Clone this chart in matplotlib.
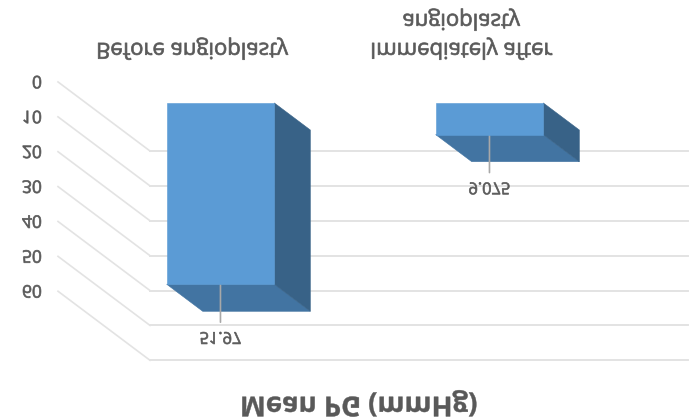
import matplotlib
matplotlib.use("Agg")
import matplotlib.pyplot as plt
from matplotlib.patheffects import AbstractPathEffect
from matplotlib.transforms import Affine2D

categories = ["Before angioplasty", "Immediately after"]
category_second_lines = [None, "angioplasty"]
values = [51.97, 9.075]
value_labels = ["51.97", "9.075"]
y_ticks = [0, 10, 20, 30, 40, 50, 60]
axis_title = "Mean PG (mmHg)"

TEXT_COLOR = "#595959"
GRID_COLOR = "#e3e3e3"
FRONT_COLOR = "#5b9bd5"
SIDE_COLOR = "#386287"
END_COLOR = "#4274a2"
LEADER_COLOR = "#a8a8a8"

# oblique depth of the box, in data units (x categories, y mmHg)
DEPTH_X = -0.342
DEPTH_Y = -19.8
BAR_WIDTH = 0.4
BAR_FRONT = 0.696
BAR_BACK = 0.304

# height of the mirrored baseline above the text's own baseline, as a share of
# the font size: ascenders and descenders of Open Sans swap places around it
FLIP_HEIGHT = 0.52


class FlipGlyphs(AbstractPathEffect):
    """Mirrors each text line top to bottom inside its own box, with a thin outline."""

    def __init__(self, stroke=0.5):
        super().__init__()
        self.stroke = stroke

    def draw_path(self, renderer, gc, tpath, affine, rgbFace=None):
        gc0 = renderer.new_gc()
        gc0.copy_properties(gc)
        gc0.set_linewidth(self.stroke)
        gc0.set_foreground(rgbFace)
        # glyph outlines come in units of 1/100 of the font size
        flip = Affine2D().scale(1, -1).translate(0, FLIP_HEIGHT * 100)
        renderer.draw_path(gc0, tpath, flip + affine, rgbFace)
        gc0.restore()


def project(x, v, depth):
    return x + depth * DEPTH_X, v + depth * DEPTH_Y


def flipped_label(ax, text, xy, dx, dy, size, ha="center", weight="normal", stroke=0.5):
    # dx, dy are pixel offsets from the anchor to the flipped baseline, dy counted upward
    dy = dy - FLIP_HEIGHT * size * 100 / 72
    ax.annotate(text, xy=xy, xytext=(dx * 0.72, dy * 0.72), textcoords="offset points",
                ha=ha, va="baseline", fontsize=size, color=TEXT_COLOR, fontweight=weight,
                family="Open Sans", annotation_clip=False, path_effects=[FlipGlyphs(stroke)])


fig = plt.figure(figsize=(6.94, 4.18), dpi=100)
ax = fig.add_axes([150 / 694, 1 - 360.3 / 418, 538 / 694, 209.3 / 418])
ax.set_xlim(0, 2)
ax.set_ylim(60, 0)
ax.axis("off")

# back wall and side wall gridlines
for tick in y_ticks:
    ax.plot([0, 2], [tick, tick], color=GRID_COLOR, lw=1.4, clip_on=False, zorder=1)
    fx, fy = project(0, tick, 1)
    ax.plot([0, fx], [tick, fy], color=GRID_COLOR, lw=1.2, clip_on=False, zorder=1)
    flipped_label(ax, str(tick), (fx, fy), -16, 6, 12.5, ha="right")

# the bars hang down from zero, so the visible end face is the lower one
for i, value in enumerate(values):
    left = i + 0.5 - BAR_WIDTH / 2
    right = i + 0.5 + BAR_WIDTH / 2
    f_lt = project(left, 0, BAR_FRONT)
    f_rt = project(right, 0, BAR_FRONT)
    f_rb = project(right, value, BAR_FRONT)
    f_lb = project(left, value, BAR_FRONT)
    b_rt = project(right, 0, BAR_BACK)
    b_rb = project(right, value, BAR_BACK)
    b_lb = project(left, value, BAR_BACK)

    ax.fill(*zip(f_lb, f_rb, b_rb, b_lb), color=END_COLOR, lw=0.4, clip_on=False, zorder=2)
    ax.fill(*zip(f_rt, b_rt, b_rb, f_rb), color=SIDE_COLOR, lw=0.4, clip_on=False, zorder=3)
    ax.fill(*zip(f_lt, f_rt, f_rb, f_lb), color=FRONT_COLOR, lw=0.4, clip_on=False, zorder=4)

    # leader line and value label under the bar
    cx, cy = project(i + 0.5, value, BAR_FRONT)
    ax.annotate("", xy=(cx, cy), xytext=(0, -38 * 0.72), textcoords="offset points",
                xycoords="data", annotation_clip=False,
                arrowprops=dict(arrowstyle="-", color=LEADER_COLOR, lw=1.2, shrinkA=0, shrinkB=0))
    flipped_label(ax, value_labels[i], (cx, cy), 0, -48, 11.8)

# category names along the front edge of the top
for i, name in enumerate(categories):
    anchor = project(i + 0.5, 0, 1)
    flipped_label(ax, name, anchor, 0, 39, 15.9)
    if category_second_lines[i]:
        flipped_label(ax, category_second_lines[i], anchor, 0, 68, 15.9)

title_anchor = project(1, 60, 0.5)
flipped_label(ax, axis_title, title_anchor, -14, -71, 19.8, weight="bold", stroke=0.3)

fig.savefig("out.png", dpi=100)
